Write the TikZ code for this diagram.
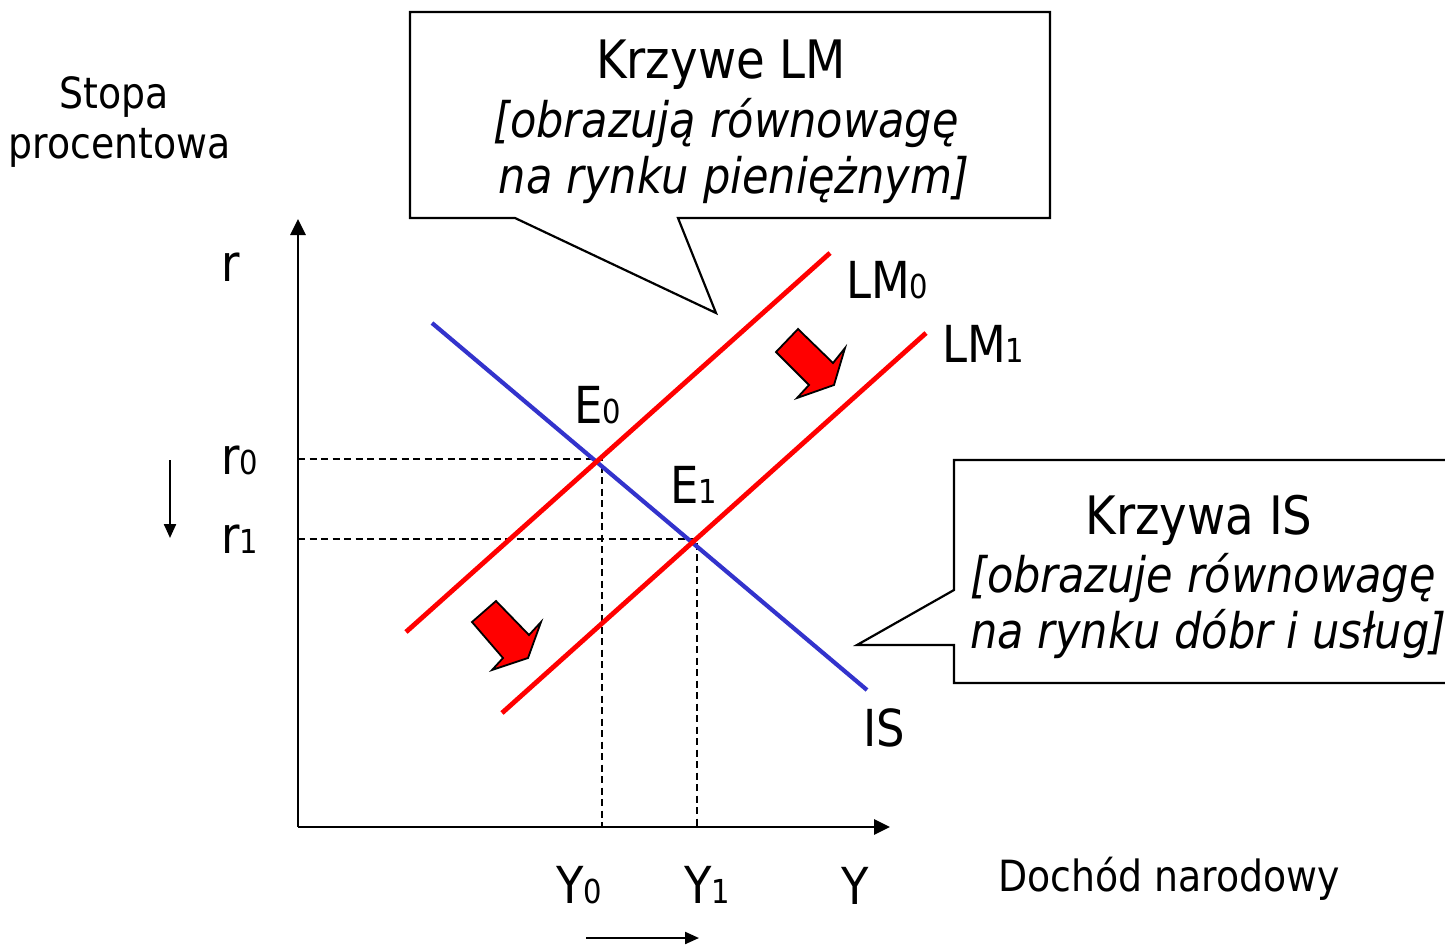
\documentclass[tikz,border=0pt]{standalone}
\usepackage{fontspec}
\setmainfont{DejaVu Sans}[FakeStretch=0.88]
\usetikzlibrary{arrows.meta}
\newcommand\lsub[1]{{\fontsize{33}{33}\selectfont #1}}
\begin{document}
\begin{tikzpicture}[x=1pt,y=-1pt,
  lbl/.style={inner sep=0pt,font=\fontsize{51}{51}\selectfont},
  ctitle/.style={inner sep=0pt,anchor=base,font=\fontsize{53}{53}\selectfont},
  cital/.style={inner sep=0pt,anchor=base,font=\fontsize{49}{49}\selectfont\itshape},
  axis/.style={line width=2.8pt,-{Triangle[length=16pt,width=15pt]}},
  lmline/.style={line width=4.8pt,red,line cap=butt},
  isline/.style={line width=4.2pt,draw={rgb,255:red,51;green,51;blue,204}},
  guide/.style={line width=1.7pt,dash pattern=on 7pt off 4.5pt},
  callout/.style={line width=2.2pt,fill=white},
  fat/.style={fill=red,draw=black,line width=1.8pt,line join=miter},
  small/.style={line width=2.2pt,-{Triangle[length=14pt,width=12pt]}}
]
\useasboundingbox (0,0) rectangle (1445,951);
\clip (0,0) rectangle (1445,951);
% coordinates
\coordinate (O) at (298,827);
\coordinate (ytop) at (298,219);
\coordinate (xend) at (890,827);
\coordinate (lm0a) at (406,632);
\coordinate (lm0b) at (830,253);
\coordinate (lm1a) at (502,713);
\coordinate (lm1b) at (926,333);
\coordinate (isa) at (432,323);
\coordinate (isb) at (867,690);
\coordinate (e0) at (602,459);
\coordinate (e1) at (697,539);
\coordinate (r0y) at (298,459);
\coordinate (r1y) at (298,539);
\coordinate (y0x) at (602,827);
\coordinate (y1x) at (697,827);
% guides
\draw[guide] (r0y) -- (e0) -- (y0x);
\draw[guide] (r1y) -- (e1) -- (y1x);
% axes
\draw[axis] (O) -- (ytop);
\draw[axis] (O) -- (xend);
% curves
\draw[isline] (isa) -- (isb);
\draw[lmline] (lm0a) -- (lm0b);
\draw[lmline] (lm1a) -- (lm1b);
% fat arrows
\draw[fat] (776,352) -- (798,329) -- (833,363) -- (845,348) -- (834,385) -- (797,398) -- (809,385) -- cycle;
\draw[fat] (472,622) -- (496,601) -- (529,635) -- (541,622) -- (528,658) -- (492,670) -- (503,658) -- cycle;
% small arrows
\coordinate (da) at (170,460);
\coordinate (db) at (170,538);
\draw[small] (da) -- (db);
\coordinate (ra) at (586,938);
\coordinate (rb) at (699,938);
\draw[small] (ra) -- (rb);
% labels
\node[lbl,anchor=base west] (r) at (221,281) {r};
\node[lbl,anchor=base west] (r0) at (221,474) {r\lsub{0}};
\node[lbl,anchor=base west] (r1) at (221,553) {r\lsub{1}};
\node[lbl,anchor=base west] (Y0) at (556,903) {Y\lsub{0}};
\node[lbl,anchor=base west] (Y1) at (684,903) {Y\lsub{1}};
\node[lbl,anchor=base west] (Y) at (841,904) {Y};
\node[lbl,anchor=base west] (E0) at (574,423) {E\lsub{0}};
\node[lbl,anchor=base west] (E1) at (670,503) {E\lsub{1}};
\node[lbl,anchor=base west] (LM0) at (846,298) {LM\lsub{0}};
\node[lbl,anchor=base west] (LM1) at (942,362) {LM\lsub{1}};
\node[lbl,anchor=base west] (IS) at (863,746) {IS};
\node[inner sep=0pt,anchor=base,font=\fontsize{43}{43}\selectfont] (st1) at (114,108) {Stopa};
\node[inner sep=0pt,anchor=base,font=\fontsize{43}{43}\selectfont] (st2) at (120,158) {procentowa};
\node[inner sep=0pt,anchor=base west,font=\fontsize{43}{43}\selectfont] (doch) at (998,891) {Dochód narodowy};
% LM callout
\draw[callout] (410,12) -- (1050,12) -- (1050,218) -- (678,218) -- (716,313) -- (515,218) -- (410,218) -- cycle;
\node[ctitle] (lmt) at (721,78) {Krzywe LM};
\node[cital] (lmi1) at (726,137) {[obrazują równowagę};
\node[cital] (lmi2) at (734,193) {na rynku pieniężnym]};
% IS callout
\fill[white] (1460,460) -- (954,460) -- (954,590) -- (857,645) -- (954,645) -- (954,683) -- (1460,683) -- cycle;
\draw[line width=2.2pt] (1460,460) -- (954,460) -- (954,590) -- (857,645) -- (954,645) -- (954,683) -- (1460,683);
\node[ctitle] (ist) at (1199,534) {Krzywa IS};
\node[cital,anchor=base west] (isi1) at (970,592) {[obrazuje równowagę};
\node[cital,anchor=base west] (isi2) at (970,648) {na rynku dóbr i usług]};
\end{tikzpicture}
\end{document}
